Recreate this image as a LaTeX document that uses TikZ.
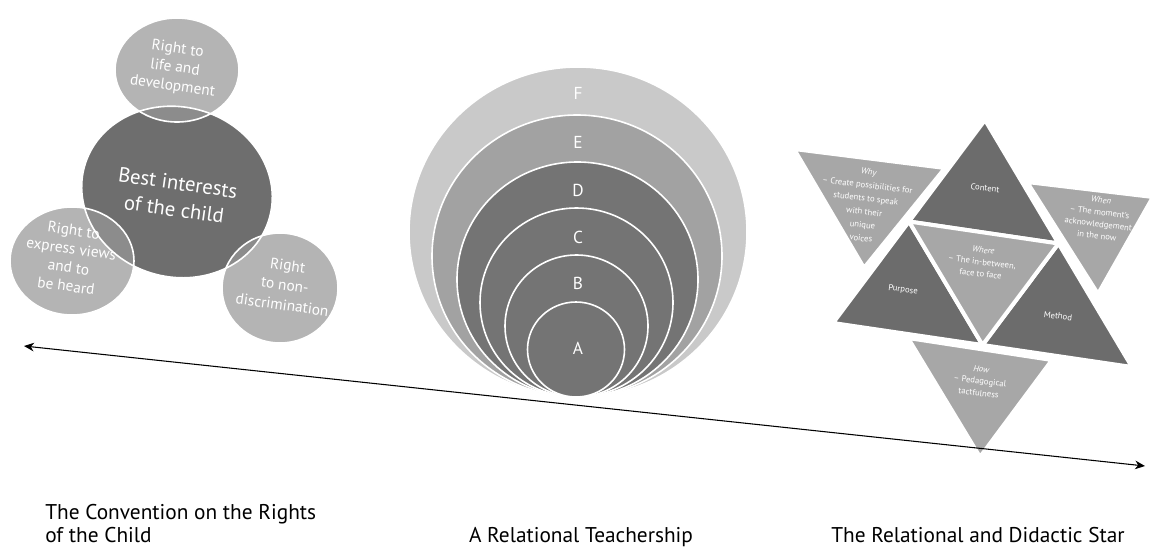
\documentclass[tikz,border=0pt]{standalone}
\usepackage{fontspec}
\setmainfont{PT Sans}
\usetikzlibrary{arrows.meta}
\definecolor{cdark}{HTML}{6E6E6E}
\definecolor{clight}{HTML}{B4B4B4}
\definecolor{clens}{HTML}{8C8C8C}
\definecolor{cF}{HTML}{C9C9C9}
\definecolor{cE}{HTML}{A2A2A2}
\definecolor{cD}{HTML}{747474}
\definecolor{sdark}{HTML}{6C6C6C}
\definecolor{slight}{HTML}{A7A7A7}
\begin{document}
\begin{tikzpicture}[x=0.75pt, y=-0.75pt,
  wtxt/.style={text=white, align=center, inner sep=0pt},
  circtxt/.style={wtxt, font=\fontsize{11.5}{14}\selectfont, rotate=-8},
  bigtxt/.style={wtxt, font=\fontsize{15.5}{20}\selectfont, rotate=-8},
  lettxt/.style={wtxt, font=\fontsize{13}{15}\selectfont},
  startxt/.style={wtxt, font=\fontsize{6.5}{8.5}\selectfont, rotate=-7},
  captxt/.style={text=black, align=left, inner sep=0pt, font=\fontsize{16}{17.5}\selectfont},
  ring/.style={draw=white, line width=1.2pt},
  tri/.style={draw=white, line width=3pt, line join=round},
  darkell/.style={rotate around={-15:(177,192)}}
]
\useasboundingbox (0,0) rectangle (1156,554);

% ---------- left cluster ----------
\fill[clight] (177,70) ellipse [x radius=62, y radius=52];
\fill[clight] (72,261) ellipse [x radius=62, y radius=54];
\fill[clight] (280,288) ellipse [x radius=58, y radius=55];
\fill[cdark, darkell] (177,192) ellipse [x radius=96, y radius=85];
\begin{scope}
  \clip (177,70) ellipse [x radius=62, y radius=52];
  \fill[clens, darkell] (177,192) ellipse [x radius=96, y radius=85];
\end{scope}
\begin{scope}
  \clip (72,261) ellipse [x radius=62, y radius=54];
  \fill[clens, darkell] (177,192) ellipse [x radius=96, y radius=85];
\end{scope}
\begin{scope}
  \clip (280,288) ellipse [x radius=58, y radius=55];
  \fill[clens, darkell] (177,192) ellipse [x radius=96, y radius=85];
\end{scope}
\draw[ring] (177,70) ellipse [x radius=62, y radius=52];
\draw[ring] (72,261) ellipse [x radius=62, y radius=54];
\draw[ring] (280,288) ellipse [x radius=58, y radius=55];
\draw[ring, darkell] (177,192) ellipse [x radius=96, y radius=85];

\node[circtxt] (life) at (175,68) {Right to\\life and\\development};
\node[bigtxt] (best) at (176,196) {Best interests\\of the child};
\node[circtxt] (views) at (70,258) {Right to\\express views\\and to\\be heard};
\node[circtxt, font=\fontsize{11.5}{15}\selectfont] (nondisc) at (285,285) {Right\\to non-\\discrimination};

% ---------- middle nested ellipses ----------
\filldraw[fill=cF, ring] (578,232) ellipse [x radius=169, y radius=165];
\filldraw[fill=cE, ring] (577,256) ellipse [x radius=145, y radius=141];
\filldraw[fill=cD, ring] (577.5,279.5) ellipse [x radius=120.5, y radius=117.5];
\filldraw[fill=cD, ring] (576.5,302.5) ellipse [x radius=96.5, y radius=94.5];
\filldraw[fill=cD, ring] (576.5,326) ellipse [x radius=71.5, y radius=71];
\filldraw[fill=cD, ring] (576,349.5) ellipse [x radius=48.5, y radius=47.5];
\node[lettxt] (lF) at (578,93) {F};
\node[lettxt] (lE) at (578,142) {E};
\node[lettxt] (lD) at (578,190) {D};
\node[lettxt] (lC) at (578,237) {C};
\node[lettxt] (lB) at (578,283) {B};
\node[lettxt] (lA) at (578,348) {A};

% ---------- star ----------
\coordinate (T) at (985,120);
\coordinate (L) at (833,323);
\coordinate (R) at (1132,367);
\coordinate (MTL) at (909,221.5);
\coordinate (MTR) at (1058.5,243.5);
\coordinate (MLR) at (982.5,345);
\filldraw[fill=slight, tri] (794,149) -- (945,168) -- (864,268) -- cycle;
\filldraw[fill=slight, tri] (1027,182) -- (1153,197) -- (1098,294) -- cycle;
\filldraw[fill=slight, tri] (908,338) -- (1052,360) -- (980,457) -- cycle;
\filldraw[fill=sdark, tri] (T) -- (MTL) -- (MTR) -- cycle;
\filldraw[fill=sdark, tri] (MTL) -- (L) -- (MLR) -- cycle;
\filldraw[fill=sdark, tri] (MTR) -- (MLR) -- (R) -- cycle;
\filldraw[fill=slight, tri] (MTL) -- (MTR) -- (MLR) -- cycle;

\node[startxt, font=\fontsize{6.5}{10}\selectfont] (why) at (865,205) {\textit{Why}\\– Create possibilities for\\students to speak\\with their\\unique\\voices};
\node[startxt] (content) at (985,188) {Content};
\node[startxt, font=\fontsize{6.5}{9}\selectfont] (when) at (1099,218) {\textit{When}\\– The moment's\\acknowledgement\\in the now};
\node[startxt, font=\fontsize{6.5}{9}\selectfont] (where) at (982,262) {\textit{Where}\\– The in-between,\\face to face};
\node[startxt] (purpose) at (903,290) {Purpose};
\node[startxt] (method) at (1058,316) {Method};
\node[startxt, font=\fontsize{6.5}{9}\selectfont] (how) at (980,381) {\textit{How}\\– Pedagogical\\tactfulness};

% ---------- arrow ----------
\coordinate (aL) at (24,346);
\coordinate (aR) at (1145,466);
\draw[line width=0.8pt, {Stealth[length=7.5pt,width=6.5pt]}-{Stealth[length=7.5pt,width=6.5pt]}] (aL) -- (aR);

% ---------- captions ----------
\node[captxt, anchor=north west] (capCRC) at (45,504) {The Convention on the Rights\\of the Child};
\node[captxt, anchor=north] (capRT) at (581,527) {A Relational Teachership};
\node[captxt, anchor=north] (capRDS) at (978,527) {The Relational and Didactic Star};
\end{tikzpicture}
\end{document}
